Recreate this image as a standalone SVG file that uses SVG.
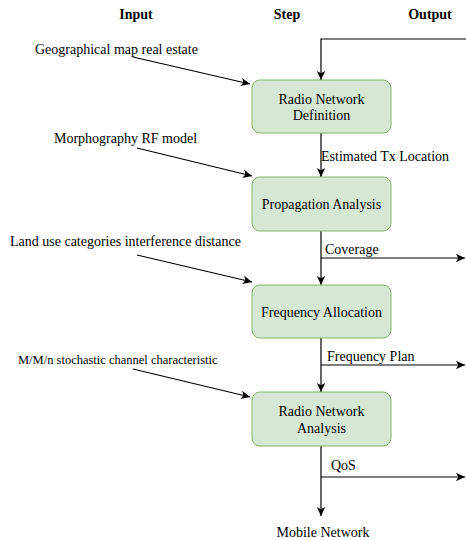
<svg xmlns="http://www.w3.org/2000/svg" width="466" height="540" viewBox="0 0 466 540">
<style>
text{font-family:"Liberation Serif","Times New Roman",serif;font-size:14px;fill:#000}
.h{font-weight:bold;text-anchor:middle}
.c{text-anchor:middle}
.box{fill:#d5e8d4;stroke:#82b366;stroke-width:1}
.ln{fill:none;stroke:#000;stroke-width:1.2;marker-end:url(#arr)}
</style>
<defs>
<marker id="arr" markerUnits="userSpaceOnUse" markerWidth="10" markerHeight="10" refX="9" refY="5" orient="auto">
<path d="M0,0.8 L9,5 L0,9.2 L2.2,5 z" fill="#000"/>
</marker>
</defs>
<g id="headers">
<text class="h" x="136" y="19">Input</text>
<text class="h" x="287" y="19">Step</text>
<text class="h" x="430" y="19">Output</text>
</g>
<g id="connectors">
<path class="ln" d="M466,39 H321 V80"/>
<path class="ln" d="M321,133 V177"/>
<path class="ln" d="M321,231 V285"/>
<path class="ln" d="M321,258 H465"/>
<path class="ln" d="M321,338 V392"/>
<path class="ln" d="M321,365 H465"/>
<path class="ln" d="M321,446 V516"/>
<path class="ln" d="M321,477 H465"/>
<path class="ln" d="M133,57 L250,84"/>
<path class="ln" d="M137,148 L252,176"/>
<path class="ln" d="M137,255 L252,282"/>
<path class="ln" d="M133,369 L250,397"/>
</g>
<g id="n1">
<rect class="box" x="252" y="80" width="139" height="53" rx="8"/>
<text class="c" x="321.5" y="103.5">Radio Network</text>
<text class="c" x="321.5" y="120">Definition</text>
</g>
<g id="n2">
<rect class="box" x="252" y="177" width="139" height="54" rx="8"/>
<text class="c" x="321.5" y="209">Propagation Analysis</text>
</g>
<g id="n3">
<rect class="box" x="252" y="285" width="139" height="53" rx="8"/>
<text class="c" x="321.5" y="317">Frequency Allocation</text>
</g>
<g id="n4">
<rect class="box" x="252" y="392" width="139" height="54" rx="8"/>
<text class="c" x="321.5" y="415.5">Radio Network</text>
<text class="c" x="321.5" y="432.5">Analysis</text>
</g>
<g id="inputs">
<text x="35" y="53.5">Geographical map real estate</text>
<text x="54" y="142.5">Morphography RF model</text>
<text x="10" y="245.5">Land use categories interference distance</text>
<text x="18" y="364" style="font-size:12.5px">M/M/n stochastic channel characteristic</text>
</g>
<g id="labels">
<text x="321" y="160.5">Estimated Tx Location</text>
<text x="325" y="253.5">Coverage</text>
<text x="327" y="360.5">Frequency Plan</text>
<text x="331" y="469.5">QoS</text>
<text class="c" x="323" y="536.5">Mobile Network</text>
</g>
</svg>
